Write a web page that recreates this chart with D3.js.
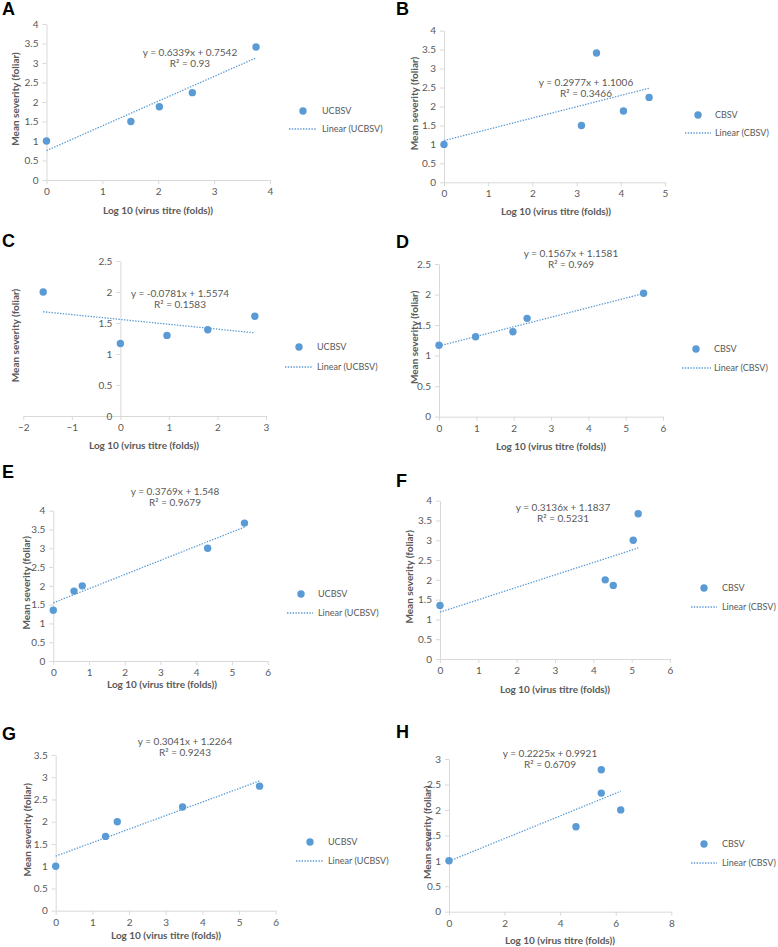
<!DOCTYPE html>
<html>
<head>
<meta charset="utf-8">
<script src="https://cdn.jsdelivr.net/npm/d3@7"></script>
<style>
  html, body { margin: 0; padding: 0; background: #ffffff; }
  svg { display: block; }
</style>
</head>
<body>
<svg id="chart" width="778" height="947"></svg>
<script>
// ---------------- DATA ----------------
const panelLetters = ["A", "B", "C", "D", "E", "F", "G", "H"];
const seriesNames = ["UCBSV", "CBSV", "UCBSV", "CBSV", "UCBSV", "CBSV", "UCBSV", "CBSV"];

const xA = [0, 1.51, 2.02, 2.61, 3.75];
const yA = [1.0, 1.5, 1.88, 2.24, 3.41];
const xB = [0, 3.11, 3.45, 4.06, 4.64];
const yB = [1.0, 1.5, 3.41, 1.88, 2.24];
const xC = [-1.59, 0, 0.96, 1.80, 2.77];
const yC = [2.0, 1.17, 1.3, 1.39, 1.61];
const xD = [0, 0.98, 1.98, 2.36, 5.48];
const yD = [1.17, 1.31, 1.39, 1.61, 2.02];
const xE = [0, 0.58, 0.81, 4.32, 5.35];
const yE = [1.35, 1.86, 2.0, 3.0, 3.67];
const xF = [0, 4.31, 4.52, 5.04, 5.17];
const yF = [1.35, 2.0, 1.86, 3.0, 3.67];
const xG = [0, 1.36, 1.68, 3.46, 5.56];
const yG = [1.0, 1.67, 2.0, 2.33, 2.8];
const xH = [0, 4.57, 5.48, 5.48, 6.18];
const yH = [1.0, 1.67, 2.33, 2.79, 2.0];

const xSeries = [xA, xB, xC, xD, xE, xF, xG, xH];
const ySeries = [yA, yB, yC, yD, yE, yF, yG, yH];

const slopes = [0.6339, 0.2977, -0.0781, 0.1567, 0.3769, 0.3136, 0.3041, 0.2225];
const intercepts = [0.7542, 1.1006, 1.5574, 1.1581, 1.548, 1.1837, 1.2264, 0.9921];
const r2Labels = ["0.93", "0.3466", "0.1583", "0.969", "0.9679", "0.5231", "0.9243", "0.6709"];

const xTickSets = [
  [0, 1, 2, 3, 4],
  [0, 1, 2, 3, 4, 5],
  [-2, -1, 0, 1, 2, 3],
  [0, 1, 2, 3, 4, 5, 6],
  [0, 1, 2, 3, 4, 5, 6],
  [0, 1, 2, 3, 4, 5, 6],
  [0, 1, 2, 3, 4, 5, 6],
  [0, 2, 4, 6, 8]
];
const yTickSets = [
  [0, 0.5, 1, 1.5, 2, 2.5, 3, 3.5, 4],
  [0, 0.5, 1, 1.5, 2, 2.5, 3, 3.5, 4],
  [0, 0.5, 1, 1.5, 2, 2.5],
  [0, 0.5, 1, 1.5, 2, 2.5],
  [0, 0.5, 1, 1.5, 2, 2.5, 3, 3.5, 4],
  [0, 0.5, 1, 1.5, 2, 2.5, 3, 3.5, 4],
  [0, 0.5, 1, 1.5, 2, 2.5, 3, 3.5],
  [0, 0.5, 1, 1.5, 2, 2.5, 3]
];

const xAxisTitle = "Log 10 (virus titre (folds))";
const yAxisTitle = "Mean severity (foliar)";
const trendPrefix = "Linear";

// ---------------- LAYOUT (pixel positions only) ----------------
const layout = [
  { lx: 2,   ly: 15,  x0: 46.5, x1: 270,   yT: 24,    yB: 180,   eqX: 190, eqY: 52,  yTitleX: 15,  xTitleX: 158, xTitleY: 210, legX: 303, legY: 111, lineY: 129, lineX1: 289, lineX2: 317, legTX: 322 },
  { lx: 396, ly: 15,  x0: 444,  x1: 665,   yT: 30.7,  yB: 182.3, eqX: 586, eqY: 82,  yTitleX: 414, xTitleX: 556, xTitleY: 211, legX: 698, legY: 115, lineY: 133, lineX1: 685, lineX2: 711, legTX: 715 },
  { lx: 2,   ly: 247, x0: 23.3, x1: 266,   yT: 261,   yB: 416,   eqX: 180, eqY: 293, yTitleX: 15,  xTitleX: 144, xTitleY: 445, legX: 299, legY: 347, lineY: 367, lineX1: 285, lineX2: 313, legTX: 317 },
  { lx: 396, ly: 248, x0: 439,  x1: 663,   yT: 264,   yB: 416.7, eqX: 571, eqY: 253, yTitleX: 414, xTitleX: 551, xTitleY: 446, legX: 696, legY: 349, lineY: 368, lineX1: 682, lineX2: 711, legTX: 714 },
  { lx: 2,   ly: 478, x0: 53.3, x1: 267.7, yT: 510.7, yB: 661,   eqX: 175, eqY: 491, yTitleX: 26,  xTitleX: 162, xTitleY: 684, legX: 301, legY: 594, lineY: 613, lineX1: 287, lineX2: 313, legTX: 318 },
  { lx: 396, ly: 487, x0: 440,  x1: 670,   yT: 500.7, yB: 659,   eqX: 563, eqY: 507, yTitleX: 409, xTitleX: 555, xTitleY: 689, legX: 704, legY: 588, lineY: 607, lineX1: 691, lineX2: 717, legTX: 722 },
  { lx: 2,   ly: 740, x0: 55.7, x1: 275.7, yT: 755,   yB: 910.7, eqX: 185, eqY: 741, yTitleX: 27,  xTitleX: 166, xTitleY: 935, legX: 310, legY: 842, lineY: 861, lineX1: 296, lineX2: 323, legTX: 328 },
  { lx: 396, ly: 738, x0: 449,  x1: 671.3, yT: 759,   yB: 911.7, eqX: 550, eqY: 753, yTitleX: 427, xTitleX: 560, xTitleY: 940, legX: 704, legY: 844, lineY: 863, lineX1: 691, lineX2: 717, legTX: 722 }
];

// ---------------- STYLE ----------------
const pointColor = "#5b9bd5";
const axisColor = "#d9d9d9";
const textColor = "#595959";
const font = "Lato, 'Open Sans', sans-serif";

const svg = d3.select("#chart");

panelLetters.forEach((letter, i) => {
  const L = layout[i];
  const xs = xSeries[i], ys = ySeries[i];
  const xt = xTickSets[i], yt = yTickSets[i];

  const x = d3.scaleLinear().domain([d3.min(xt), d3.max(xt)]).range([L.x0, L.x1]);
  const y = d3.scaleLinear().domain([0, d3.max(yt)]).range([L.yB, L.yT]);

  const g = svg.append("g");

  // panel letter
  g.append("text")
    .attr("x", L.lx).attr("y", L.ly)
    .attr("font-family", "'Liberation Sans', Arial, sans-serif")
    .attr("font-weight", "bold").attr("font-size", 18)
    .attr("fill", "#000").text(letter);

  // x axis at y = 0
  const xAxis = d3.axisBottom(x).tickValues(xt).tickSize(4).tickSizeOuter(0).tickPadding(4)
    .tickFormat(d3.format("d"));
  const gx = g.append("g").attr("transform", `translate(0,${y(0)})`).call(xAxis);

  // y axis at x = 0
  const yAxis = d3.axisLeft(y).tickValues(yt).tickSize(4).tickSizeOuter(0).tickPadding(4)
    .tickFormat(d => String(d));
  const gy = g.append("g").attr("transform", `translate(${x(0)},0)`).call(yAxis);

  [gx, gy].forEach(ax => {
    ax.select(".domain").attr("stroke", axisColor).attr("stroke-width", 1);
    ax.selectAll(".tick line").attr("stroke", axisColor).attr("stroke-width", 1);
    ax.selectAll(".tick text").attr("fill", textColor)
      .attr("font-family", font).attr("font-size", 10);
  });

  // trend line (from data min to data max)
  const xmin = d3.min(xs), xmax = d3.max(xs);
  const m = slopes[i], b = intercepts[i];
  g.append("line")
    .attr("x1", x(xmin)).attr("y1", y(m * xmin + b))
    .attr("x2", x(xmax)).attr("y2", y(m * xmax + b))
    .attr("stroke", pointColor).attr("stroke-width", 1.3)
    .attr("stroke-dasharray", "1.4 1.4");

  // points
  g.selectAll("circle.pt").data(xs.map((v, k) => [v, ys[k]])).enter()
    .append("circle").attr("class", "pt")
    .attr("cx", d => x(d[0])).attr("cy", d => y(d[1]))
    .attr("r", 3.7).attr("fill", pointColor);

  // equation
  const sign = b >= 0 ? "+" : "-";
  g.append("text")
    .attr("x", L.eqX).attr("y", L.eqY).attr("dy", "0.35em")
    .attr("text-anchor", "middle").attr("fill", textColor)
    .attr("font-family", font).attr("font-size", 10)
    .text(`y = ${m}x ${sign} ${Math.abs(b)}`);
  g.append("text")
    .attr("x", L.eqX).attr("y", L.eqY + 11.5).attr("dy", "0.35em")
    .attr("text-anchor", "middle").attr("fill", textColor)
    .attr("font-family", font).attr("font-size", 10)
    .text(`R\u00B2 = ${r2Labels[i]}`);

  // axis titles
  g.append("text")
    .attr("x", L.xTitleX).attr("y", L.xTitleY).attr("dy", "0.35em")
    .attr("text-anchor", "middle").attr("fill", textColor)
    .attr("font-family", font).attr("font-size", 10).attr("font-weight", "bold")
    .text(xAxisTitle);
  const yc = (L.yT + L.yB) / 2 - 3;
  g.append("text")
    .attr("transform", `translate(${L.yTitleX},${yc}) rotate(-90)`)
    .attr("dy", "0.35em")
    .attr("text-anchor", "middle").attr("fill", textColor)
    .attr("font-family", font).attr("font-size", 10).attr("font-weight", "bold")
    .text(yAxisTitle);

  // legend
  g.append("circle").attr("cx", L.legX).attr("cy", L.legY).attr("r", 3.7).attr("fill", pointColor);
  g.append("text").attr("x", L.legTX).attr("y", L.legY).attr("dy", "0.35em")
    .attr("fill", textColor).attr("font-family", font).attr("font-size", 9)
    .text(seriesNames[i]);
  g.append("line")
    .attr("x1", L.lineX1).attr("x2", L.lineX2).attr("y1", L.lineY).attr("y2", L.lineY)
    .attr("stroke", pointColor).attr("stroke-width", 1.3).attr("stroke-dasharray", "1.4 1.4");
  g.append("text").attr("x", L.legTX).attr("y", L.lineY).attr("dy", "0.35em")
    .attr("fill", textColor).attr("font-family", font).attr("font-size", 9)
    .text(`${trendPrefix} (${seriesNames[i]})`);
});
</script>
</body>
</html>
